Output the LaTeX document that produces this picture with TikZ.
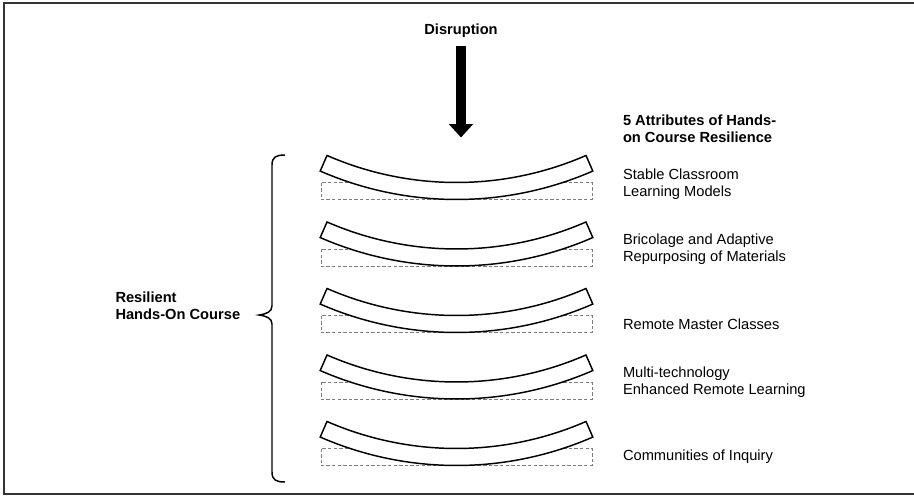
\documentclass[tikz,border=0pt]{standalone}
\usepackage{fontspec}
\setmainfont{Liberation Sans}
\usepackage{tikz}
\usetikzlibrary{arrows.meta}
\definecolor{framegray}{RGB}{51,51,51}
\definecolor{dashgray}{RGB}{125,125,125}
\tikzset{every picture/.style={line width=0.75pt}}
\tikzset{
  lbl/.style={anchor=west, inner sep=0pt, align=left, font=\fontsize{11}{12.8}\selectfont},
  lblbold/.style={lbl, font=\fontsize{11}{12.8}\selectfont\bfseries},
  plate/.style={draw=black, line width=1.1pt, fill=white},
  flat/.style={draw=dashgray, line width=0.7pt, dash pattern=on 2.6pt off 1.6pt}
}

\begin{document}
\begin{tikzpicture}[x=0.75pt,y=0.75pt,yscale=-1,xscale=1]
\useasboundingbox (0,0) rectangle (914,496);
% frame
\draw [framegray, line width=1.5pt] (914,2.5) -- (3.5,2.5) -- (3.5,494) -- (914,494) ;
% disruption arrow
\node (disrupt) at (461,31) [font=\fontsize{11}{12.8}\selectfont\bfseries, inner sep=0pt] {Disruption};
\coordinate (hit) at (461,137.5) ;
\draw [line width=7.5pt, -{Triangle[width=17.5pt, length=10pt]}] ([yshift=5.5pt]disrupt.south) -- (hit) ;
% bent plates and flat outlines
\foreach \t in {155.5,222,288.5,355,421.5} {
  \draw [flat] (321,\t+27) rectangle (592,\t+44) ;
  \draw [plate] (456.5,\t-297) ++(113.56:324) arc [start angle=113.56, end angle=66.44, radius=324]
     -- ++(66.44:17) arc [start angle=66.44, end angle=113.56, radius=341] -- cycle ;
}
% brace
\draw [line width=1.1pt] (285,155) .. controls (276,155) and (272,157) .. (272,165) -- (272,306)
   .. controls (272,312) and (266,314) .. (259,315) .. controls (266,316) and (272,318) .. (272,324)
   -- (272,472) .. controls (272,480) and (276,482) .. (285,482) ;
% labels
\node (course) at (115,305.5) [lblbold] {Resilient\\Hands-On Course};
\node (attrib) at (622.5,129) [lblbold] {5 Attributes of Hands-\\on Course Resilience};
\node (stable) at (622.5,184.5) [lbl] {Stable Classroom\\Learning Models};
\node (brico) at (622.5,249.5) [lbl] {Bricolage and Adaptive\\Repurposing of Materials};
\node (master) at (622.5,324) [lbl] {Remote Master Classes};
\node (multi) at (622.5,382.5) [lbl] {Multi-technology\\Enhanced Remote Learning};
\node (inquiry) at (622.5,457) [lbl] {Communities of Inquiry};
\end{tikzpicture}
\end{document}
